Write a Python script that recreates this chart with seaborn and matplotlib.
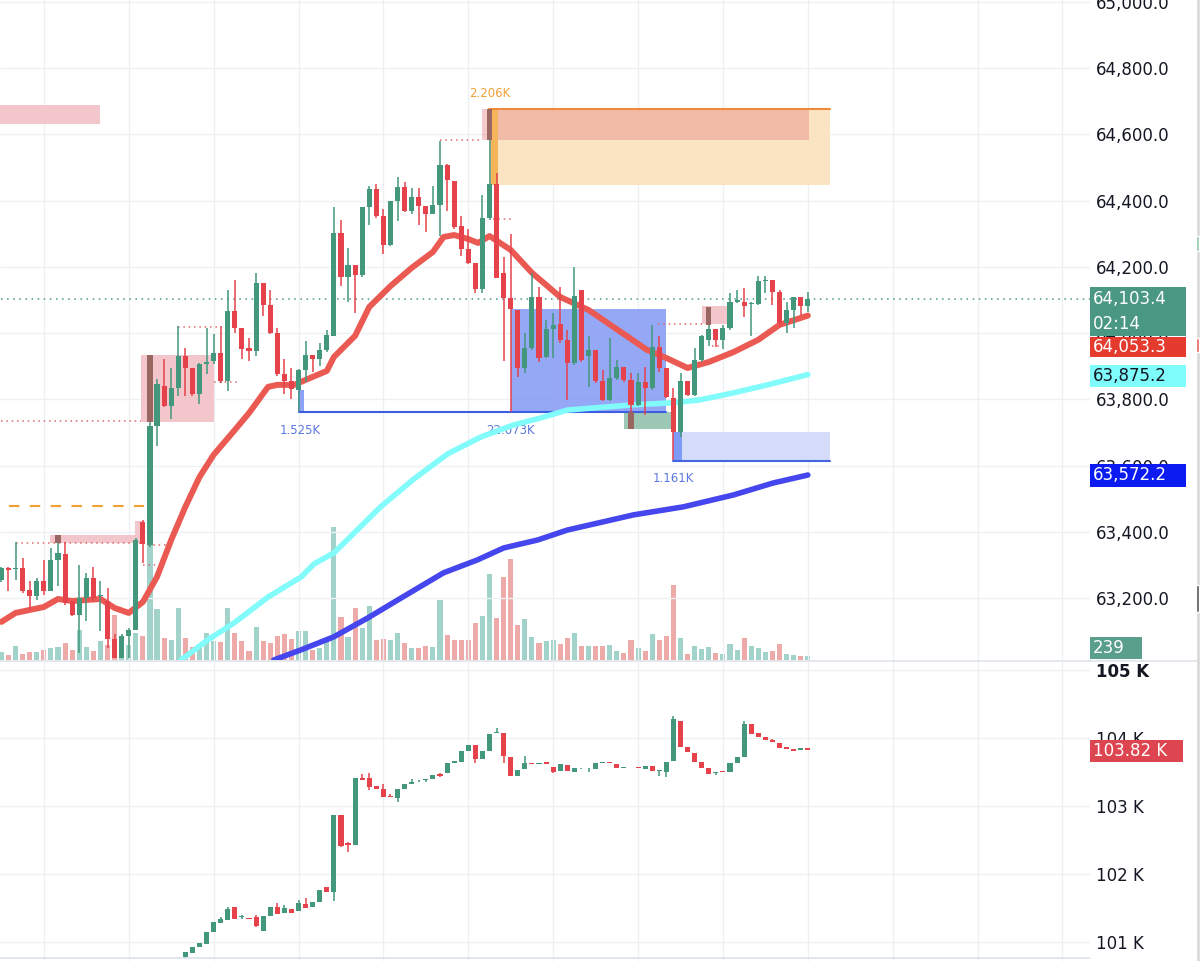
import numpy as np
import pandas as pd
import seaborn as sns
import matplotlib.pyplot as plt
from matplotlib.patches import Rectangle

sns.set_theme(style="white")
plt.rcParams['font.family'] = ['DejaVu Sans']

# ---- main pane: 115 bars, index 0..114
opens = [63256, 63293, 63288, 63291, 63226, 63206, 63251, 63221, 63316, 63333,
         63191, 63151, 63201, 63261, 63206, 63191, 63076, 63021, 63086, 63106,
         63430, 63361, 63721, 63841, 63781, 63836, 63931, 63896, 63816, 63906,
         63916, 63941, 63856, 64066, 64016, 63955, 63946, 64151, 64086, 64001,
         63876, 63856, 63828, 63890, 63933, 63922, 63949, 63992, 64302, 64170,
         64205, 64175, 64380, 64434, 64353, 64267, 64398, 64442, 64369, 64410,
         64385, 64360, 64387, 64506, 64458, 64324, 64253, 64213, 64132, 64348,
         64450, 64181, 64105, 64070, 63894, 63955, 64110, 63927, 64012, 64028,
         63980, 63911, 64130, 63931, 63950, 63857, 63799, 63864, 63897, 63859,
         63784, 63854, 63834, 63958, 63894, 63804, 63703, 63857, 63814, 63919,
         63980, 64012, 63980, 64015, 64095, 64095, 64088, 64088, 64156, 64161,
         64124, 64030, 64070, 64110, 64082]
highs = [63295, 63296, 63371, 63321, 63251, 63261, 63316, 63351, 63391, 63371,
         63191, 63301, 63276, 63296, 63251, 63231, 63091, 63091, 63111, 63381,
         63436, 63736, 63861, 63921, 63896, 64021, 63956, 63896, 63911, 64016,
         63996, 64021, 64131, 64161, 64016, 63986, 64181, 64151, 64131, 64016,
         63921, 63896, 63893, 63976, 63933, 63971, 64008, 64380, 64342, 64256,
         64205, 64380, 64444, 64450, 64375, 64398, 64471, 64457, 64439, 64439,
         64385, 64444, 64581, 64511, 64458, 64353, 64315, 64213, 64418, 64676,
         64482, 64229, 64299, 64070, 64000, 64181, 64140, 64040, 64060, 64140,
         64010, 64201, 64130, 63990, 63950, 63889, 63985, 63919, 63897, 63879,
         63879, 63899, 64025, 63992, 63894, 63834, 63879, 63857, 63955, 63995,
         64080, 64012, 64025, 64120, 64129, 64136, 64094, 64171, 64171, 64161,
         64131, 64095, 64110, 64110, 64124]
lows = [63250, 63221, 63256, 63216, 63166, 63196, 63211, 63221, 63236, 63181,
        63146, 63036, 63131, 63191, 63101, 63051, 63021, 63021, 63021, 63106,
        63306, 63356, 63661, 63776, 63741, 63811, 63811, 63811, 63786, 63876,
        63906, 63851, 63826, 64001, 63921, 63916, 63931, 64051, 63996, 63871,
        63816, 63801, 63765, 63852, 63884, 63901, 63944, 63992, 64143, 64095,
        64062, 64170, 64326, 64348, 64240, 64262, 64337, 64364, 64358, 64326,
        64305, 64358, 64294, 64369, 64315, 64234, 64208, 64121, 64121, 64342,
        64165, 63917, 63763, 63869, 63879, 63950, 63914, 63924, 63924, 63970,
        63799, 63904, 63914, 63839, 63849, 63794, 63794, 63859, 63854, 63713,
        63779, 63754, 63829, 63884, 63804, 63618, 63688, 63809, 63809, 63914,
        63960, 63958, 63952, 64010, 64092, 64050, 63990, 64085, 64120, 64085,
        64020, 63999, 64015, 64055, 64065]
closes = [63291, 63286, 63293, 63221, 63206, 63251, 63221, 63316, 63336, 63186,
          63151, 63201, 63261, 63201, 63211, 63076, 63021, 63086, 63106, 63376,
          63365, 63721, 63846, 63781, 63836, 63931, 63896, 63816, 63906, 63913,
          63941, 63856, 64066, 64016, 63951, 63946, 64151, 64086, 64001, 63876,
          63856, 63831, 63890, 63933, 63922, 63949, 63994, 64302, 64170, 64205,
          64175, 64380, 64434, 64353, 64267, 64398, 64442, 64369, 64412, 64385,
          64360, 64387, 64506, 64461, 64321, 64253, 64213, 64132, 64348, 64450,
          64165, 64105, 64073, 63894, 63955, 64110, 63924, 64012, 64025, 63980,
          63911, 64112, 63919, 63950, 63857, 63799, 63864, 63897, 63859, 63784,
          63854, 63834, 63958, 63894, 63807, 63703, 63857, 63814, 63919, 63990,
          64012, 63980, 64015, 64095, 64100, 64083, 64092, 64156, 64161, 64124,
          64030, 64070, 64110, 64082, 64103.4]
volumes = [480, 300, 840, 360, 480, 480, 600, 720, 780, 1020,
           600, 1800, 780, 540, 1140, 900, 2700, 600, 900, 1620,
           1440, 7500, 3060, 1320, 1200, 3120, 1320, 780, 960, 1620,
           1140, 1080, 3120, 1620, 1140, 540, 1980, 1140, 1020, 1440,
           1560, 1260, 1740, 1740, 600, 720, 1200, 7980, 2580, 1380,
           3120, 1920, 3240, 1200, 1260, 1200, 1620, 1020, 720, 720,
           840, 780, 3600, 1500, 1200, 1200, 1200, 2220, 2640, 5160,
           2520, 4980, 6060, 2100, 2460, 1380, 1020, 1140, 1200, 960,
           1320, 1620, 840, 840, 840, 840, 900, 540, 420, 1200,
           720, 540, 1560, 1200, 1440, 4500, 1320, 360, 840, 660,
           780, 420, 360, 960, 600, 1320, 840, 720, 480, 540,
           960, 360, 300, 240, 239]

# moving averages (bar index, price)
ema_x = [0, 2, 4, 6, 8, 10, 12, 14, 16, 18, 20, 22, 24, 26, 28, 30, 33, 35, 37.7, 39, 41.4,
         43, 46, 47, 50, 52, 55, 58, 61, 62.5, 64, 66, 67.4, 69, 72, 75, 79, 83, 86.5,
         91.3, 94, 97, 100, 103.5, 107, 110, 114]
ema_y = [63129, 63156, 63165, 63174, 63198, 63192, 63195, 63198, 63171, 63156, 63189,
         63265, 63376, 63476, 63566, 63633, 63708, 63759, 63838, 63844, 63844,
         63859, 63886, 63928, 63992, 64079, 64142, 64197, 64245, 64290, 64296, 64284,
         64272, 64293, 64251, 64182, 64109, 64070, 64019, 63949, 63925, 63895, 63913,
         63943, 63980, 64025, 64053]
cyan_x = [25.4, 29.2, 32.9, 37.7, 42.4, 44.2, 47, 49, 53.6, 58.3, 63.1, 67.8, 72.4, 76.2,
          80, 89.4, 95, 98.8, 103.5, 108.3, 114]
cyan_y = [63014, 63075, 63126, 63204, 63265, 63304, 63337, 63379, 63476, 63560, 63636,
          63687, 63723, 63744, 63768, 63784, 63790, 63799, 63820, 63844, 63875]
blue_x = [38.5, 42.4, 47, 51.8, 56.5, 62.5, 67.3, 71, 75.8, 80, 89.4, 96.4, 103.5, 109.1, 114]
blue_y = [63014, 63045, 63084, 63141, 63201, 63277, 63316, 63352, 63376, 63406, 63452,
          63476, 63512, 63548, 63572]

# ---- lower pane: bars 26..114
low_start = 26
opens2 = [100781, 100840, 100928, 100972, 101149, 101281, 101325, 101516, 101369, 101354,
          101369, 101163, 101384, 101516, 101428, 101487, 101457, 101560, 101516, 101590,
          101810, 101737, 102869, 102457, 102428, 103412, 103412, 103295, 103251, 103148,
          103118, 103251, 103324, 103376, 103383, 103398, 103471, 103486, 103633, 103648,
          103809, 103898, 103692, 103809, 104074, 104074, 103721, 103442, 103545, 103633,
          103618, 103648, 103574, 103515, 103604, 103501, 103555, 103555, 103545, 103633,
          103648, 103618, 103559, 103577, 103574, 103545, 103589, 103515, 103501, 103662,
          104250, 103868, 103780, 103648, 103559, 103486, 103515, 103501, 103633, 103721,
          104206, 104074, 104015, 103971, 103927, 103868, 103839, 103824, 103853]
highs2 = [100860, 100935, 100990, 101149, 101296, 101369, 101510, 101516, 101400, 101354,
          101400, 101384, 101516, 101575, 101546, 101487, 101619, 101648, 101590, 101766,
          101810, 102869, 102869, 102472, 103412, 103471, 103486, 103295, 103324, 103177,
          103251, 103324, 103398, 103383, 103398, 103457, 103486, 103633, 103662, 103809,
          103898, 103898, 103809, 104059, 104147, 104074, 103721, 103530, 103736, 103633,
          103633, 103648, 103574, 103618, 103604, 103559, 103565, 103565, 103633, 103648,
          103648, 103618, 103574, 103580, 103574, 103589, 103589, 103530, 103648, 104324,
          104250, 103868, 103780, 103648, 103559, 103501, 103515, 103633, 103721, 104250,
          104206, 104074, 104015, 103985, 103927, 103868, 103839, 103853, 103853]
lows2 = [100770, 100835, 100925, 100972, 101149, 101281, 101325, 101340, 101340, 101340,
         101222, 101163, 101384, 101413, 101428, 101428, 101457, 101501, 101516, 101590,
         101737, 101604, 102398, 102325, 102428, 103383, 103236, 103251, 103133, 103133,
         103060, 103251, 103324, 103354, 103354, 103398, 103427, 103486, 103633, 103648,
         103809, 103633, 103692, 103809, 104074, 103633, 103442, 103442, 103545, 103618,
         103618, 103618, 103486, 103515, 103515, 103501, 103550, 103501, 103545, 103633,
         103633, 103559, 103559, 103568, 103559, 103545, 103515, 103442, 103427, 103662,
         103868, 103795, 103648, 103559, 103471, 103457, 103501, 103501, 103633, 103721,
         104059, 104015, 103971, 103942, 103853, 103839, 103809, 103824, 103820]
closes2 = [100854, 100928, 100987, 101149, 101296, 101340, 101487, 101340, 101384, 101340,
           101237, 101384, 101516, 101413, 101501, 101428, 101575, 101501, 101590, 101766,
           101737, 102869, 102413, 102428, 103412, 103383, 103280, 103251, 103133, 103133,
           103251, 103324, 103354, 103383, 103398, 103457, 103442, 103633, 103662, 103809,
           103898, 103692, 103809, 104059, 104089, 103736, 103442, 103530, 103633, 103618,
           103633, 103618, 103501, 103618, 103515, 103559, 103562, 103562, 103633, 103648,
           103633, 103559, 103574, 103570, 103559, 103589, 103515, 103530, 103648, 104280,
           103868, 103795, 103648, 103559, 103471, 103501, 103501, 103633, 103721, 104206,
           104059, 104015, 103971, 103942, 103853, 103839, 103809, 103853, 103820]

main_ticks = [63200, 63400, 63600, 63800, 64000, 64200, 64400, 64600, 64800, 65000]
low_ticks = [101000, 102000, 103000, 104000, 105000]
low_labels = ["101 K", "102 K", "103 K", "104 K", "105 K"]

GREEN = "#43977D"
RED = "#E5424B"
VGREEN = "#A1D3CA"
VRED = "#EEAAA9"
PINK = "#F2C6CB"
GRID = "#EFF0F3"
TXT = "#131722"

W, H = 1200, 961
fig = plt.figure(figsize=(W / 100, H / 100), dpi=100)
fig.patch.set_facecolor("white")

ax = fig.add_axes([0, 1 - 660 / H, 1090 / W, 660 / H])
ax2 = fig.add_axes([0, 0, 1090 / W, 299 / H])
XMAX = 1090 / 7.083


def candles(a, start, o, h, l, c, z=5):
    df = pd.DataFrame(dict(o=o, h=h, l=l, c=c))
    df["x"] = np.arange(start, start + len(df))
    up = df.c >= df.o
    cols = np.where(up, GREEN, RED)
    a.vlines(df.x, df.l, df.h, colors=cols, lw=1.1, zorder=z)
    span = a.get_ylim()[1] - a.get_ylim()[0]
    body = np.maximum((df.c - df.o).abs(), span / 600)
    a.bar(df.x, body, bottom=np.minimum(df.o, df.c), width=0.72, color=cols,
          linewidth=0, zorder=z + 0.1)


def box(a, x0, x1, y0, y1, color, alpha=1.0, z=1):
    a.add_patch(Rectangle((x0, y0), x1 - x0, y1 - y0, facecolor=color,
                          edgecolor="none", alpha=alpha, zorder=z))


def dotted(a, x0, x1, y, color="#E06868"):
    a.plot([x0, x1], [y, y], color=color, lw=1.1, ls=(0, (1, 2.5)), zorder=2)


# ---------------- main pane
ax.set_xlim(-0.2, XMAX)
ax.set_ylim(63014, 65005)
vax = ax.twinx()
vax.set_ylim(0, 660 * 60)
vax.axis("off")
ax.set_zorder(vax.get_zorder() + 1)
ax.patch.set_visible(False)

vcols = [VGREEN if c >= o else VRED for o, c in zip(opens, closes)]
vax.bar(np.arange(len(volumes)), volumes, width=0.72, color=vcols, linewidth=0)

ax.set_xticks(np.arange(6, XMAX, 12))
ax.set_yticks(main_ticks)
ax.set_yticklabels([f"{t:,.1f}" for t in main_ticks])
ax.yaxis.tick_right()
ax.tick_params(axis="y", length=0, pad=4, labelsize=12, labelcolor=TXT)
ax.tick_params(axis="x", length=0, labelbottom=False)
ax.grid(True, color=GRID, lw=1)
for s in ax.spines.values():
    s.set_visible(False)
for s in vax.spines.values():
    s.set_visible(False)

# zones and markers
box(ax, -1, 14, 64631, 64688, PINK)
box(ax, 68.9, 117.2, 64447, 64676, "#FBE4C2")
box(ax, 67.9, 114.1, 64583, 64676, "#E88A8A", alpha=0.45, z=1.5)
box(ax, 69.2, 70.2, 64447, 64676, "#F6B55A", z=1.6)
ax.plot([68.9, 117.2], [64676, 64676], color="#EE8A3A", lw=1.5, zorder=2)
ax.text(69.0, 64722, "2.206K", color="#F0A13A", fontsize=8.5, ha="center", va="center")

box(ax, 72.1, 94.0, 63762, 64073, "#7890F4", alpha=0.78, z=1)
ax.plot([42, 94], [63762, 63762], color="#3D5EE0", lw=1.5, zorder=2)
box(ax, 41.9, 42.8, 63762, 63830, "#8CA3F5", z=1)
ax.text(42.2, 63707, "1.525K", color="#5B78E0", fontsize=8.5, ha="center", va="center")
ax.text(72.0, 63707, "22.073K", color="#5B78E0", fontsize=8.5, ha="center", va="center")

box(ax, 95.0, 117.2, 63615, 63702, "#D4DCF9")
box(ax, 95.0, 96.2, 63615, 63702, "#7E9BF5")
ax.plot([95, 117.2], [63615, 63615], color="#4565E0", lw=1.5, zorder=2)
ax.text(95.0, 63563, "1.161K", color="#5B78E0", fontsize=8.5, ha="center", va="center")

box(ax, 88.0, 94.6, 63711, 63762, "#9CC8B5", z=1.2)
box(ax, 99.1, 102.6, 64028, 64082, PINK)
box(ax, 19.8, 30.1, 63732, 63934, PINK)
box(ax, 6.8, 20.2, 63367, 63391, PINK)
box(ax, 18.9, 20.2, 63367, 63434, PINK)

dotted(ax, 0, 19.8, 63735)
dotted(ax, 2, 20.2, 63367)
dotted(ax, 25, 30.6, 64019)
dotted(ax, 30, 33.6, 63853)
dotted(ax, 62, 68, 64583)
dotted(ax, 69.5, 72, 64345)
dotted(ax, 92.8, 99, 64028)
dotted(ax, 100.5, 101.8, 63962)
dotted(ax, 20.7, 23.5, 63360)
dotted(ax, 20.0, 22.6, 63302)
ax.plot([1.1, 20.2], [63479, 63479], color="#F0A030", lw=1.5, ls=(0, (5, 5)), zorder=2)
ax.plot([0, XMAX], [64103.4, 64103.4], color="#4A9884", lw=1.1, ls=(0, (1, 3)), zorder=2)

# moving averages
sns.lineplot(x=blue_x, y=blue_y, ax=ax, color="#4646EE", linewidth=4, sort=False,
             zorder=3, solid_capstyle="round")
sns.lineplot(x=cyan_x, y=cyan_y, ax=ax, color="#82FBFB", linewidth=4, sort=False,
             zorder=3, solid_capstyle="round")
sns.lineplot(x=ema_x, y=ema_y, ax=ax, color="#EA5A52", linewidth=4.3, sort=False,
             zorder=3, solid_capstyle="round")

candles(ax, 0, opens, highs, lows, closes)

# darker highlighted candles
for k, y0, y1 in [(8, 63367, 63391), (21, 63733, 63935), (69, 64583, 64676),
                  (100, 64025, 64080), (89, 63711, 63762)]:
    box(ax, k - 0.36, k + 0.36, y0, y1, "#9A6662", z=6)

# ---------------- lower pane
ax2.set_xlim(-0.2, XMAX)
ax2.set_ylim(100722, 105118)
candles(ax2, low_start, opens2, highs2, lows2, closes2)
ax2.set_xticks(np.arange(6, XMAX, 12))
ax2.set_yticks(low_ticks)
ax2.set_yticklabels(low_labels)
ax2.yaxis.tick_right()
ax2.tick_params(axis="y", length=0, pad=4, labelsize=12, labelcolor=TXT)
ax2.tick_params(axis="x", length=0, labelbottom=False)
ax2.get_yticklabels()[-1].set_fontweight("bold")
ax2.grid(True, color=GRID, lw=1)
for s in ax2.spines.values():
    s.set_visible(False)

# separators / frame
fig.add_artist(plt.Line2D([0, 1197 / W], [1 - 661 / H, 1 - 661 / H],
                          color="#E0E3EB", lw=1.2, transform=fig.transFigure))
fig.add_artist(plt.Line2D([0, 1090 / W], [1 - 958 / H, 1 - 958 / H],
                          color="#DCDFF0", lw=1.2, transform=fig.transFigure))
fig.add_artist(plt.Line2D([1198 / W, 1198 / W], [0, 1], color="#DADADA", lw=2,
                          transform=fig.transFigure))
for y0, y1, c in [(236, 251, "#8CC9A8"), (338, 352, "#E56060"), (585, 612, "#555555")]:
    fig.add_artist(Rectangle((1196 / W, 1 - y1 / H), 3 / W, (y1 - y0) / H,
                             facecolor=c, transform=fig.transFigure, zorder=5))


# price tags on the right axis
def tag(y0, y1, x1, bg, lines, fg="white"):
    fig.add_artist(Rectangle((1090 / W, 1 - y1 / H), (x1 - 1090) / W, (y1 - y0) / H,
                             facecolor=bg, edgecolor="none", transform=fig.transFigure,
                             zorder=5))
    n = len(lines)
    for i, t in enumerate(lines):
        yc = y0 + (y1 - y0) * (i + 0.5) / n
        fig.text(1093 / W, 1 - yc / H, t, color=fg, fontsize=12, ha="left", va="center",
                 zorder=6)


tag(287, 336, 1186, "#4A9884", ["64,103.4", "02:14"])
tag(337, 357, 1186, "#E53A2E", ["64,053.3"])
tag(365, 387, 1186, "#7FFCFC", ["63,875.2"], fg=TXT)
tag(464, 487, 1186, "#0B1BF2", ["63,572.2"])
tag(637, 659, 1142, "#5A9E8C", ["239"])
tag(740, 762, 1183, "#DD4650", ["103.82 K"])

fig.savefig("out.png", dpi=100, facecolor="white")
